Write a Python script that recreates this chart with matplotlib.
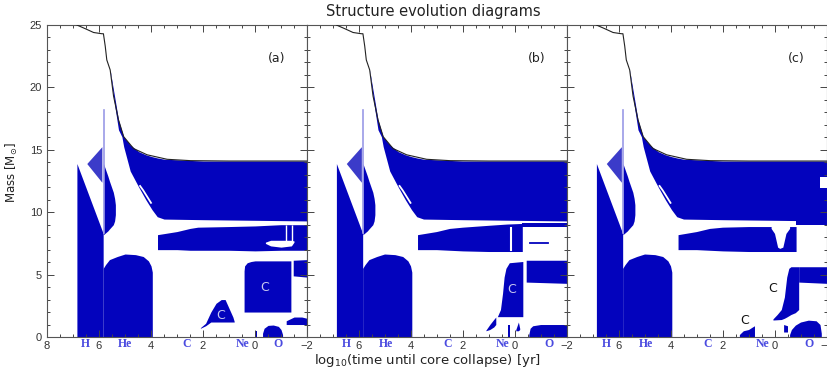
import numpy as np
import matplotlib.pyplot as plt
from matplotlib.ticker import MultipleLocator
from matplotlib.transforms import blended_transform_factory

# ---- data (x = log10 time to collapse, y = mass) ----
surf_t = [6.95, 6.85, 6.47, 6.21, 5.89, 5.83, 5.76, 5.70, 5.57, 5.44, 5.25, 5.05, 4.67, 4.15, 3.38, 2.48, 1.0, -2.0]
surf_m = [25.3, 25.0, 24.65, 24.4, 24.3, 24.3, 23.3, 22.2, 21.4, 19.3, 17.4, 16.05, 15.1, 14.6, 14.24, 14.13, 14.1, 14.1]

env_t = [5.57, 5.5, 5.37, 5.25, 5.12, 5.05, 4.8, 4.47, 4.2, 3.96, 3.76, 3.5, 2.0, 0.0, -2.0]
env_lo = [21.3, 20.1, 18.2, 16.6, 16.05, 15.25, 13.3, 12.0, 11.0, 10.2, 9.64, 9.45, 9.4, 9.35, 9.3]
env_hi = [21.4, 20.5, 18.9, 17.4, 16.5, 16.05, 15.4, 14.85, 14.6, 14.45, 14.35, 14.25, 14.1, 14.1, 14.1]

arc_t = [4.42, 4.3, 4.15, 4.0]
arc_m = [12.1, 11.75, 11.25, 10.75]

hcore_t = [6.85, 5.84]
hcore_hi = [13.9, 8.3]

hecore_t = [5.84, 5.75, 5.6, 5.3, 5.0, 4.6, 4.3, 4.1, 4.0, 3.95]
hecore_hi = [5.5, 5.8, 6.2, 6.45, 6.65, 6.6, 6.45, 6.1, 5.7, 5.2]

hshell_t = [5.83, 5.66, 5.6, 5.45, 5.4, 5.37]
hshell_lo = [8.2, 8.5, 8.65, 9.0, 9.3, 9.8]
hshell_hi = [13.9, 12.9, 12.5, 11.6, 11.1, 10.6]

icz_t = [6.47, 5.89]
icz_lo = [13.9, 12.4]
icz_hi = [13.9, 15.25]

spike_t = [5.82, 5.82]
spike_m = [8.3, 18.2]

# panel (a)
a_band_t = [3.75, 3.0, 2.5, 2.2, 1.0, 0.0, -1.0, -2.0]
a_band_lo = [7.0, 7.0, 6.95, 6.95, 6.95, 6.9, 6.95, 6.95]
a_band_hi = [8.2, 8.45, 8.7, 8.8, 8.85, 8.9, 9.0, 9.0]
a_hole_t = [-0.4, -0.6, -1.0, -1.4, -1.5]
a_hole_lo = [7.5, 7.3, 7.2, 7.3, 7.6]
a_hole_hi = [7.6, 7.75, 7.75, 7.75, 7.7]
a_c1_t = [2.1, 1.9, 1.7, 1.5, 1.3, 1.15, 1.0, 0.85, 0.8]
a_c1_lo = [0.7, 0.9, 1.2, 1.2, 1.2, 1.2, 1.2, 1.2, 1.2]
a_c1_hi = [0.75, 1.1, 2.0, 2.7, 3.0, 3.0, 2.3, 1.6, 1.25]
a_c2_t = [0.42, 0.40, 0.3, 0.15, 0.0, -1.35, -1.38]
a_c2_lo = [2.0, 2.0, 2.0, 2.0, 2.0, 2.0, 2.0]
a_c2_hi = [5.3, 5.7, 5.95, 6.05, 6.1, 6.1, 6.1]
a_c3_t = [-1.47, -2.0]
a_c3_lo = [4.9, 4.8]
a_c3_hi = [6.15, 6.2]
a_o_t = [-0.29, -0.35, -0.5, -0.7, -0.9, -1.0, -1.06]
a_o_hi = [0.3, 0.7, 0.93, 0.96, 0.85, 0.6, 0.2]
a_o2_t = [-1.2, -1.5, -1.8, -2.0]
a_o2_lo = [1.0, 1.0, 1.0, 1.0]
a_o2_hi = [1.3, 1.6, 1.6, 1.5]
a_bit_t = [0.0, -0.08]
a_bit_hi = [0.5, 0.5]

# panel (b)
b_band_t = [3.73, 3.0, 2.5, 2.0, 1.0, 0.3, -0.3]
b_band_lo = [7.0, 7.0, 6.95, 6.9, 6.85, 6.85, 6.85]
b_band_hi = [8.2, 8.45, 8.7, 8.8, 8.95, 9.05, 9.1]
b_thin_t = [-0.3, -2.0]
b_thin_lo = [8.8, 8.8]
b_thin_hi = [9.15, 9.15]
b_c2_t = [0.66, 0.54, 0.46, 0.40, 0.33, 0.2, -0.32]
b_c2_lo = [1.63, 1.63, 1.63, 1.63, 1.63, 1.63, 1.63]
b_c2_hi = [1.63, 2.2, 3.5, 4.8, 5.5, 5.95, 6.05]
b_c3_t = [-0.45, -2.0]
b_c3_lo = [4.4, 4.3]
b_c3_hi = [6.15, 6.15]
b_c1_t = [1.1, 0.95, 0.8, 0.72]
b_c1_lo = [0.5, 0.6, 0.8, 1.0]
b_c1_hi = [0.55, 1.0, 1.4, 1.6]
b_o_t = [-0.55, -0.6, -0.7, -1.0, -2.0]
b_o_hi = [0.2, 0.7, 0.9, 1.0, 1.0]
b_bit_t = [0.25, 0.18]
b_bit_hi = [0.96, 0.96]
b_bit2_t = [-0.05, -0.15, -0.2]
b_bit2_lo = [0.5, 0.5, 0.6]
b_bit2_hi = [0.6, 1.2, 0.7]
b_gap_t = [0.14, 0.14]
b_gap_m = [6.95, 8.7]
b_line_t = [-0.58, -1.27]
b_line_m = [7.5, 7.5]

# panel (c)
c_band_t = [3.71, 3.0, 2.5, 2.0, 1.0, 0.0, -0.83]
c_band_lo = [7.0, 7.0, 6.95, 6.9, 6.85, 6.85, 6.85]
c_band_hi = [8.2, 8.45, 8.7, 8.8, 8.85, 8.85, 8.85]
c_funnel_t = [0.13, 0.0, -0.12, -0.2, -0.32, -0.44, -0.58]
c_funnel_lo = [8.7, 8.3, 7.2, 7.1, 7.2, 8.3, 8.7]
c_funnel_hi = [8.9, 8.9, 8.9, 8.9, 8.9, 8.9, 8.9]
c_thin_t = [-0.83, -2.0]
c_thin_lo = [8.95, 8.95]
c_thin_hi = [9.3, 9.3]
c_notch_t = [-1.75, -2.0]
c_notch_lo = [11.9, 11.9]
c_notch_hi = [12.85, 12.85]
c_c2_t = [0.06, -0.1, -0.26, -0.38, -0.47, -0.55, -0.63, -0.8, -0.93]
c_c2_lo = [1.36, 1.38, 1.4, 1.5, 1.6, 1.7, 1.8, 1.95, 2.2]
c_c2_hi = [1.45, 1.8, 2.2, 3.2, 4.8, 5.5, 5.63, 5.63, 5.63]
c_c3_t = [-0.93, -2.0]
c_c3_lo = [4.4, 4.3]
c_c3_hi = [5.63, 5.63]
c_c1_t = [1.35, 1.2, 1.0, 0.85, 0.77]
c_c1_hi = [0.2, 0.5, 0.6, 0.8, 0.9]
c_o_t = [-0.58, -0.65, -0.8, -1.0, -1.3, -1.6, -1.75, -1.8]
c_o_hi = [0.2, 0.6, 0.95, 1.2, 1.35, 1.3, 1.0, 0.3]
c_bit_t = [-0.35, -0.5]
c_bit_lo = [0.4, 0.4]
c_bit_hi = [1.0, 0.9]

panel_tags = ['(a)', '(b)', '(c)']
burn_names = ['H', 'He', 'C', 'Ne', 'O']
burn_pos_a = [6.53, 4.99, 2.63, 0.48, -0.9]
burn_pos_bc = [6.47, 4.93, 2.59, 0.47, -1.32]
c_label_a = [(1.32, 1.76), (-0.36, 4.0)]
c_label_b = [(0.12, 3.8)]
c_label_c = [(0.07, 3.9), (1.15, 1.36)]

BLUE = '#0303bd'

fig = plt.figure(figsize=(8.27, 3.71), dpi=100)
W = 260 / 827
lefts = [47 / 827, 306.5 / 827, 566.5 / 827]
axes = [fig.add_axes([l, 34 / 371, W, 312 / 371]) for l in lefts]


def blue(ax, t, lo, hi, **kw):
    ax.fill_between(t, lo, hi, color=kw.pop('color', BLUE), lw=0, **kw)


def white(ax, t, lo, hi):
    ax.fill_between(t, lo, hi, color='white', lw=0, zorder=3)


for i, ax in enumerate(axes):
    # common structure
    blue(ax, env_t, env_lo, env_hi)
    ax.plot(arc_t, arc_m, color='white', lw=1.3)
    blue(ax, hcore_t, 0, hcore_hi)
    blue(ax, hecore_t, 0, hecore_hi)
    blue(ax, hshell_t, hshell_lo, hshell_hi)
    blue(ax, icz_t, icz_lo, icz_hi, color='#2626c4', alpha=0.9)
    ax.plot(spike_t, spike_m, color='#9a9ae6', lw=1.2)
    ax.plot(surf_t, surf_m, color='#222222', lw=0.8, zorder=4)

    if i == 0:
        blue(ax, a_band_t, a_band_lo, a_band_hi)
        white(ax, a_hole_t, a_hole_lo, a_hole_hi)
        ax.vlines([-1.2, -1.42], 7.7, 9.0, color='white', lw=1.0, zorder=3)
        blue(ax, a_c1_t, a_c1_lo, a_c1_hi)
        blue(ax, a_c2_t, a_c2_lo, a_c2_hi)
        blue(ax, a_c3_t, a_c3_lo, a_c3_hi)
        blue(ax, a_o_t, 0, a_o_hi)
        blue(ax, a_o2_t, a_o2_lo, a_o2_hi)
        blue(ax, a_bit_t, 0, a_bit_hi)
        clabels, ccol = c_label_a, '#c8c8f0'
    elif i == 1:
        blue(ax, b_band_t, b_band_lo, b_band_hi)
        blue(ax, b_thin_t, b_thin_lo, b_thin_hi)
        ax.plot(b_gap_t, b_gap_m, color='white', lw=1.5, zorder=3)
        ax.plot(b_line_t, b_line_m, color=BLUE, lw=1.3)
        blue(ax, b_c2_t, b_c2_lo, b_c2_hi)
        blue(ax, b_c3_t, b_c3_lo, b_c3_hi)
        blue(ax, b_c1_t, b_c1_lo, b_c1_hi)
        blue(ax, b_o_t, 0, b_o_hi)
        blue(ax, b_bit_t, 0, b_bit_hi)
        blue(ax, b_bit2_t, b_bit2_lo, b_bit2_hi)
        clabels, ccol = c_label_b, '#c8c8f0'
    else:
        blue(ax, c_band_t, c_band_lo, c_band_hi)
        white(ax, c_funnel_t, c_funnel_lo, c_funnel_hi)
        blue(ax, c_thin_t, c_thin_lo, c_thin_hi)
        white(ax, c_notch_t, c_notch_lo, c_notch_hi)
        blue(ax, c_c2_t, c_c2_lo, c_c2_hi)
        blue(ax, c_c3_t, c_c3_lo, c_c3_hi)
        blue(ax, c_c1_t, 0, c_c1_hi)
        blue(ax, c_o_t, 0, c_o_hi)
        blue(ax, c_bit_t, c_bit_lo, c_bit_hi)
        clabels, ccol = c_label_c, '#111111'

    for (tx, ty) in clabels:
        ax.text(tx, ty, 'C', color=ccol, fontsize=9, ha='center', va='center', zorder=5)

    ax.text(-0.85, 22.3, panel_tags[i], fontsize=9, ha='center', va='center', color='#222222')

    # burning-stage labels along the time axis
    pos = burn_pos_a if i == 0 else burn_pos_bc
    tr = blended_transform_factory(ax.transData, ax.transAxes)
    for name, p in zip(burn_names, pos):
        ax.text(p, -0.022, name, transform=tr, ha='center', va='center',
                fontsize=8.5, fontweight='bold', color='#4b4be0',
                family='Liberation Serif', clip_on=False)

    ax.set_xlim(8, -2)
    ax.set_ylim(0, 25)
    ax.set_xticks([8, 6, 4, 2, 0, -2])
    ax.xaxis.set_minor_locator(MultipleLocator(0.5))
    ax.yaxis.set_major_locator(MultipleLocator(5))
    ax.yaxis.set_minor_locator(MultipleLocator(1))
    ax.tick_params(which='both', direction='in', top=True, right=True, width=0.7,
                   colors='#444444', labelcolor='#333333', labelsize=8)
    ax.tick_params(axis='x', pad=3)
    ax.tick_params(which='major', length=5)
    ax.tick_params(which='minor', length=2.5)
    for lab in ax.get_xticklabels() + ax.get_yticklabels():
        lab.set_family('Liberation Sans')
    if i > 0:
        ax.set_yticklabels([])
        ax.set_xticklabels(['', '6', '4', '2', '0', '\u22122'])
    for s in ax.spines.values():
        s.set_color('#555555')
        s.set_linewidth(0.8)

fig.text(0.524, 0.968, 'Structure evolution diagrams', ha='center', va='center',
         fontsize=10.5, color='#222222')
fig.text(0.517, 0.028, r'log$_{10}$(time until core collapse) [yr]', ha='center',
         va='center', fontsize=9.5, color='#222222')
fig.text(12 / 827, 0.534, r'Mass [M$_{\odot}$]', rotation=90, ha='center', va='center',
         fontsize=8.5, color='#222222')

fig.savefig('out.png', dpi=100)
